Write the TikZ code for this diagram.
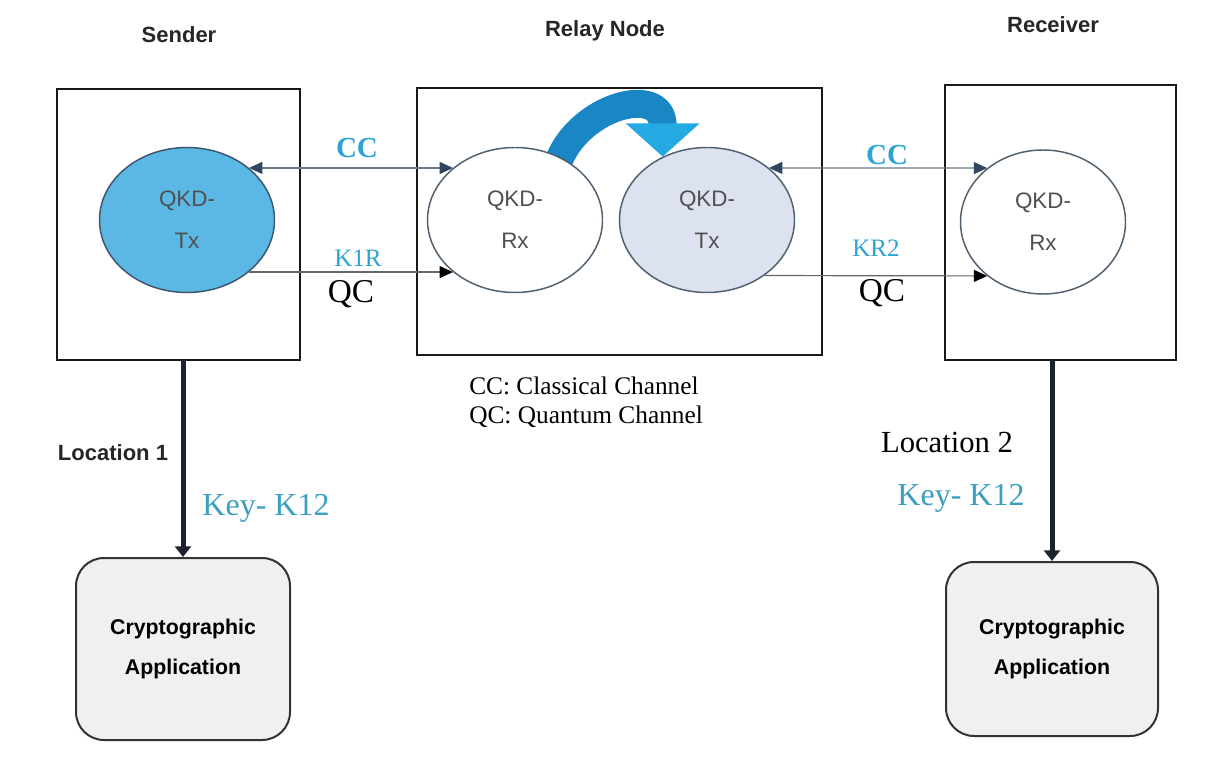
\documentclass[tikz,border=0pt]{standalone}
\usepackage{fontspec}
\setmainfont{Liberation Serif}
\setsansfont{Liberation Sans}
\usetikzlibrary{arrows.meta, positioning, shapes.geometric, calc, backgrounds}
\definecolor{txblue}{HTML}{5BB8E5}
\definecolor{txline}{HTML}{3E5570}
\definecolor{ellline}{HTML}{50606E}
\definecolor{relayfill}{HTML}{DCE2F0}
\definecolor{ccline}{HTML}{6A7888}
\definecolor{cctip}{HTML}{2F4560}
\definecolor{qcline}{HTML}{666666}
\definecolor{lblue}{HTML}{2FA3D5}
\definecolor{keyteal}{HTML}{3C9FBF}
\definecolor{arrowdark}{HTML}{1B2230}
\definecolor{handdark}{HTML}{1A87C4}
\definecolor{handlight}{HTML}{25A9E2}
\definecolor{appfill}{HTML}{F0F0F0}
\definecolor{qkdtext}{HTML}{505050}
\newcommand{\pxu}{0.75pt}
\tikzset{
  title/.style={font=\sffamily\bfseries\fontsize{16.5}{20}\selectfont, text=black!85},
  station/.style={draw=black!90, line width=1.5pt, inner sep=0pt, outer sep=0pt},
  qkd/.style={ellipse, draw=ellline, line width=1.1pt, minimum width=175*\pxu,
    minimum height=145*\pxu, align=center, text=qkdtext,
    font=\sffamily\fontsize{16.8}{31.5}\selectfont},
  cc/.style={draw=ccline, line width=0.9pt,
    {Triangle[length=10pt,width=9pt,color=cctip]}-{Triangle[length=10pt,width=9pt,color=cctip]}},
  qc/.style={draw=qcline, line width=0.9pt, -{Triangle[length=10pt,width=9pt,color=black]}},
  chlab/.style={font=\fontsize{18.8}{22}\selectfont, text=lblue},
  cclab/.style={font=\bfseries\fontsize{21.8}{24}\selectfont, text=lblue},
  qclab/.style={font=\fontsize{25}{28}\selectfont},
  handover/.style={draw=handdark, line width=21pt,
    -{Triangle[length=25pt,width=54pt,color=handlight]}},
  keyarrow/.style={draw=arrowdark, line width=3.75pt, -{Triangle[length=8pt,width=12pt]}},
  keylab/.style={font=\fontsize{24}{28}\selectfont, text=keyteal},
  locsans/.style={font=\sffamily\bfseries\fontsize{16.5}{20}\selectfont, text=black!85},
  locserif/.style={font=\fontsize{23}{26}\selectfont},
  legend/.style={align=left, font=\fontsize{19}{22}\selectfont},
  app/.style={draw=black!80, fill=appfill, line width=1.5pt, rounded corners=21pt,
    align=center, font=\sffamily\bfseries\fontsize{16}{30}\selectfont},
}
\begin{document}
\begin{tikzpicture}[x=\pxu, y=-\pxu, every node/.style={inner sep=0pt}]
\useasboundingbox (0,0) rectangle (1206,762);
% titles
\node[title] (tS) at (179,35) {Sender};
\node[title] (tM) at (605,31) {Relay Node};
\node[title] (tR) at (1053,25) {Receiver};
% stations
\node[station, minimum width=243*\pxu, minimum height=271*\pxu] (sbox) at (178.5,224.5) {};
\node[station, minimum width=405*\pxu, minimum height=267*\pxu] (mbox) at (619.5,221.5) {};
\node[station, minimum width=231*\pxu, minimum height=275*\pxu] (rbox) at (1060.5,222.5) {};
% QKD units
\node[qkd, fill=txblue, draw=txline] (txS) at (187,220) {QKD-\\Tx};
\node[qkd, fill=white] (rxM) at (515,220) {QKD-\\Rx};
\node[qkd, fill=relayfill] (txM) at (707,220) {QKD-\\Tx};
\node[qkd, fill=white, minimum width=165*\pxu, minimum height=144*\pxu] (rxR) at (1043,222) {QKD-\\Rx};
% relay hand-over
\begin{scope}[on background layer]
\draw[handover] ($(rxM.center)!0.8!(rxM.50)$) .. controls (570,108) and ($(txM.125)+(0,-75)$) .. (txM.125);
\end{scope}
% channels
\draw[cc] (txS.40) -- (rxM.140);
\draw[qc] (txS.320) -- (rxM.220);
\draw[cc] (txM.40) -- (rxR.136);
\draw[qc] (txM.316) -- (rxR.224);
\node[cclab] (ccS) at (357,148) {CC};
\node[chlab] (k1r) at (358,258) {K1R};
\node[qclab] (qcS) at (351,294) {QC};
\node[cclab] (ccR) at (887,155) {CC};
\node[chlab] (kr2) at (876,248) {KR2};
\node[qclab] (qcR) at (882,293) {QC};
% legend
\node[legend, anchor=west] (leg) at (469,402) {CC: Classical Channel\\QC: Quantum Channel};
% applications
\node[app, minimum width=214*\pxu, minimum height=182*\pxu] (appS) at (183,649) {Cryptographic\\Application};
\node[app, minimum width=212*\pxu, minimum height=174*\pxu] (appR) at (1052,649) {Cryptographic\\Application};
\draw[keyarrow] (appS.north |- sbox.south) -- (appS.north);
\draw[keyarrow] (appR.north |- rbox.south) -- (appR.north);
\node[locsans] (loc1) at (113,453) {Location 1};
\node[keylab] (key1) at (266,508) {Key- K12};
\node[locserif] (loc2) at (947,442) {Location 2};
\node[keylab] (key2) at (961,498) {Key- K12};
\end{tikzpicture}
\end{document}
